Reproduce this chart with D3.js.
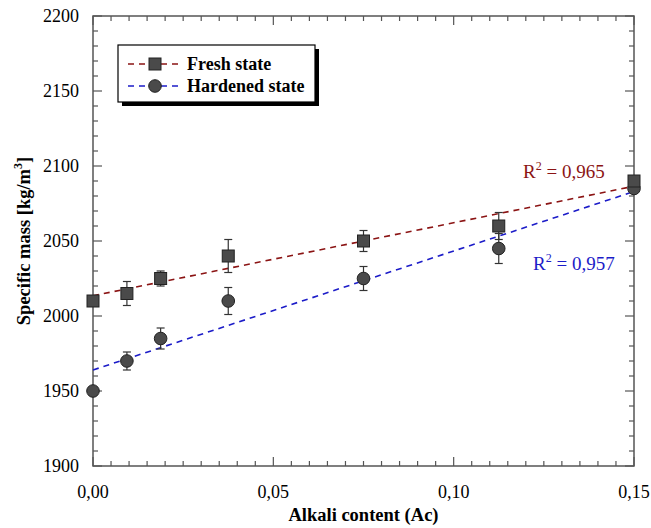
<!DOCTYPE html>
<html>
<head>
<meta charset="utf-8">
<script src="https://cdn.jsdelivr.net/npm/d3@7"></script>
<style>
  body { margin: 0; background: #fff; }
  svg text { font-family: "Liberation Serif", "Times New Roman", serif; }
</style>
</head>
<body>
<div id="chart"></div>
<script>
// data
const alkali = [0, 0.0094, 0.01875, 0.0375, 0.075, 0.1125, 0.15];
const fresh = [2010, 2015, 2025, 2040, 2050, 2060, 2090];
const freshErr = [0, 8, 5, 11, 7, 9, 0];
const hardened = [1950, 1970, 1985, 2010, 2025, 2045, 2085];
const hardenedErr = [0, 6, 7, 9, 8, 10, 0];
const fitX = [0, 0.15];
const fitFresh = [2013.5, 2086.5];
const fitHardened = [1964, 2083];
const xTicks = [0, 0.05, 0.10, 0.15];
const yTicks = [1900, 1950, 2000, 2050, 2100, 2150, 2200];

const width = 651, height = 528;
const margin = {left: 93, right: 17, top: 16, bottom: 62};
const x0 = margin.left, x1 = width - margin.right;
const y0 = height - margin.bottom, y1 = margin.top;

const svg = d3.select("#chart").append("svg")
    .attr("width", width)
    .attr("height", height);

const x = d3.scaleLinear().domain([0, 0.15]).range([x0, x1]);
const y = d3.scaleLinear().domain([1900, 2200]).range([y0, y1]);

const red = "#8b1414";
const blue = "#1c1cc8";
const markFill = "#4a4a4a";
const axisCol = "#555";

// frame
svg.append("rect")
    .attr("x", x0).attr("y", y1)
    .attr("width", x1 - x0).attr("height", y0 - y1)
    .attr("fill", "none").attr("stroke", axisCol).attr("stroke-width", 1.5);

// ticks inward on every side
const xMinor = d3.range(0, 0.1501, 0.005);
const yMinor = d3.range(1900, 2200.1, 10);
const ticks = svg.append("g").attr("stroke", axisCol).attr("stroke-width", 1.2);
xMinor.forEach((v, i) => {
    const len = i % 10 === 0 ? 9 : 5;
    ticks.append("line").attr("x1", x(v)).attr("x2", x(v)).attr("y1", y0).attr("y2", y0 - len);
    ticks.append("line").attr("x1", x(v)).attr("x2", x(v)).attr("y1", y1).attr("y2", y1 + len);
});
yMinor.forEach((v, i) => {
    const len = i % 5 === 0 ? 9 : 5;
    ticks.append("line").attr("y1", y(v)).attr("y2", y(v)).attr("x1", x0).attr("x2", x0 + len);
    ticks.append("line").attr("y1", y(v)).attr("y2", y(v)).attr("x1", x1).attr("x2", x1 - len);
});

// tick labels
const fmtX = d => d3.format(".2f")(d).replace(".", ",");
svg.append("g").selectAll("text").data(xTicks).join("text")
    .attr("x", d => x(d)).attr("y", y0 + 32)
    .attr("text-anchor", "middle")
    .style("font-size", "18px")
    .text(fmtX);
svg.append("g").selectAll("text").data(yTicks).join("text")
    .attr("x", x0 - 14).attr("y", d => y(d) + 6)
    .attr("text-anchor", "end")
    .style("font-size", "18px")
    .text(d => d);

// axis titles
svg.append("text")
    .attr("x", (x0 + x1) / 2).attr("y", 521)
    .attr("text-anchor", "middle")
    .style("font-size", "18.5px").style("font-weight", "bold")
    .text("Alkali content (Ac)");
const yt = svg.append("text")
    .attr("transform", `translate(30,${(y0 + y1) / 2}) rotate(-90)`)
    .attr("text-anchor", "middle")
    .style("font-size", "18.5px").style("font-weight", "bold");
yt.append("tspan").text("Specific mass [kg/m");
yt.append("tspan").attr("dy", -8).style("font-size", "12px").text("3");
yt.append("tspan").attr("dy", 8).text("]");

// trend lines
const line = d3.line().x(d => x(d[0])).y(d => y(d[1]));
svg.append("path")
    .attr("d", line(d3.zip(fitX, fitFresh)))
    .attr("fill", "none").attr("stroke", red)
    .attr("stroke-width", 1.6).attr("stroke-dasharray", "6,5");
svg.append("path")
    .attr("d", line(d3.zip(fitX, fitHardened)))
    .attr("fill", "none").attr("stroke", blue)
    .attr("stroke-width", 1.6).attr("stroke-dasharray", "6,5");

// error bars
function errorBars(vals, errs) {
    const g = svg.append("g").attr("stroke", "#333").attr("stroke-width", 1.2);
    alkali.forEach((a, i) => {
        if (!errs[i]) return;
        const cx = x(a);
        g.append("line").attr("x1", cx).attr("x2", cx)
            .attr("y1", y(vals[i] - errs[i])).attr("y2", y(vals[i] + errs[i]));
        [vals[i] - errs[i], vals[i] + errs[i]].forEach(v => {
            g.append("line").attr("x1", cx - 4).attr("x2", cx + 4)
                .attr("y1", y(v)).attr("y2", y(v));
        });
    });
}
errorBars(fresh, freshErr);
errorBars(hardened, hardenedErr);

// markers
svg.append("g").selectAll("circle").data(alkali).join("circle")
    .attr("cx", d => x(d)).attr("cy", (d, i) => y(hardened[i]))
    .attr("r", 6.3)
    .attr("fill", markFill).attr("stroke", "#222").attr("stroke-width", 1);
svg.append("g").selectAll("rect").data(alkali).join("rect")
    .attr("x", d => x(d) - 6).attr("y", (d, i) => y(fresh[i]) - 6)
    .attr("width", 12).attr("height", 12)
    .attr("fill", markFill).attr("stroke", "#222").attr("stroke-width", 1);

// R² labels
function rLabel(xp, yp, col, val) {
    const t = svg.append("text").attr("x", xp).attr("y", yp)
        .attr("fill", col).style("font-size", "19px");
    t.append("tspan").text("R");
    t.append("tspan").attr("dy", -8).style("font-size", "12px").text("2");
    t.append("tspan").attr("dy", 8).text(" = " + val);
}
rLabel(523, 178, red, "0,965");
rLabel(533, 270, blue, "0,957");

// legend
const lg = svg.append("g");
lg.append("rect").attr("x", 122).attr("y", 49).attr("width", 197).attr("height", 57).attr("fill", "#000");
lg.append("rect").attr("x", 118).attr("y", 45).attr("width", 197).attr("height", 57)
    .attr("fill", "#fff").attr("stroke", "#000").attr("stroke-width", 1.2);
const items = [
    {label: "Fresh state", col: red, shape: "square", yy: 64},
    {label: "Hardened state", col: blue, shape: "circle", yy: 86}
];
items.forEach(it => {
    lg.append("line").attr("x1", 128).attr("x2", 182).attr("y1", it.yy).attr("y2", it.yy)
        .attr("stroke", it.col).attr("stroke-width", 1.6).attr("stroke-dasharray", "6,5");
    if (it.shape === "square") {
        lg.append("rect").attr("x", 149).attr("y", it.yy - 6).attr("width", 12).attr("height", 12)
            .attr("fill", markFill).attr("stroke", "#222");
    } else {
        lg.append("circle").attr("cx", 155).attr("cy", it.yy).attr("r", 6.3)
            .attr("fill", markFill).attr("stroke", "#222");
    }
    lg.append("text").attr("x", 187).attr("y", it.yy + 6)
        .style("font-size", "18px").style("font-weight", "bold")
        .text(it.label);
});
</script>
</body>
</html>
